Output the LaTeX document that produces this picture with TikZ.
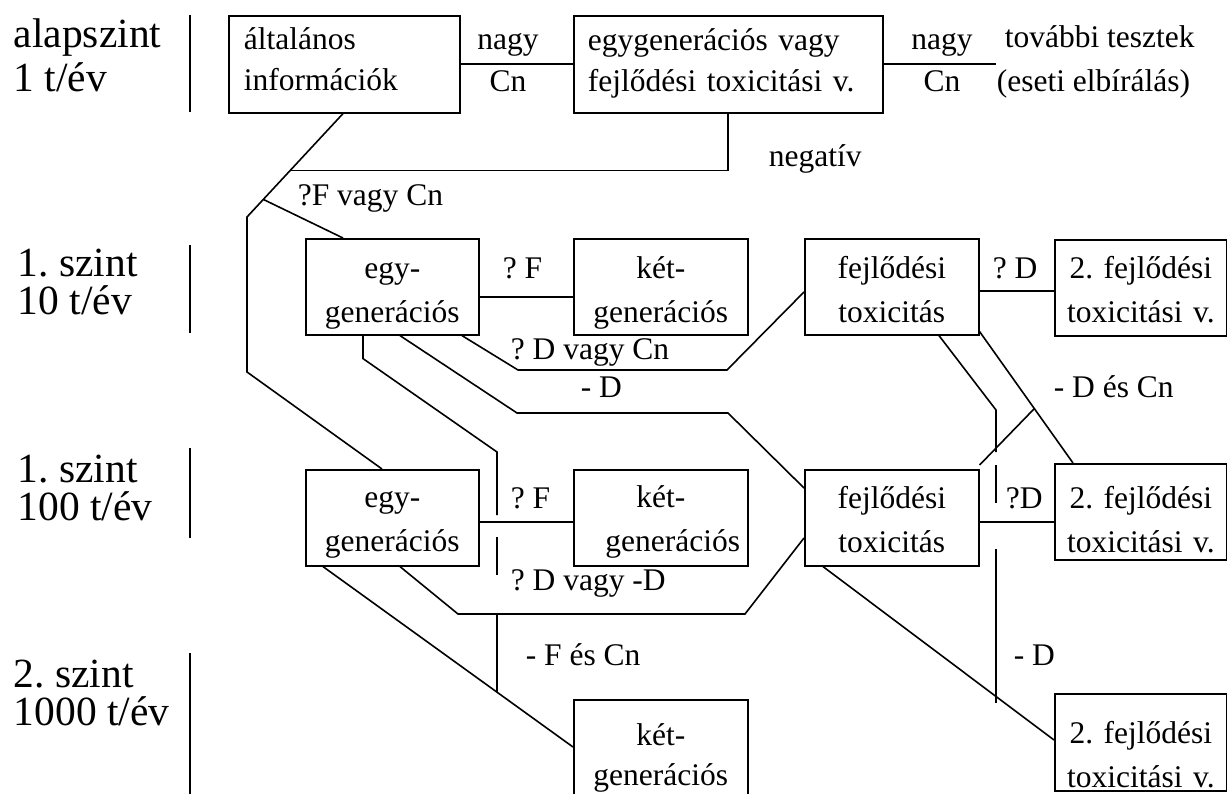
\documentclass[tikz,border=0pt]{standalone}
\usepackage{fontspec}
\setmainfont{Liberation Serif}
\usetikzlibrary{calc}
\frenchspacing

\newcommand\boxfont{\fontsize{31.5}{44}\selectfont}
\newcommand\topfont{\fontsize{31.5}{41}\selectfont}
\newcommand\sidefont{\fontsize{41.5}{38}\selectfont}

\begin{document}
\begin{tikzpicture}[x=1pt,y=-1pt,line width=1.6pt,
  box/.style={draw,inner sep=0pt,anchor=north west,align=center,font=\boxfont},
  lbl/.style={inner sep=0pt,anchor=base west,font=\boxfont},
  side/.style={inner sep=0pt,anchor=base west,align=left,font=\sidefont}]
  \useasboundingbox (0,0) rectangle (1227,794);

  % tonnage levels (base = last line)
  \node[side,font=\fontsize{41.5}{44}\selectfont] (lev0) at (13,92) {alapszint\\1 t/év};
  \node[side] (lev1) at (17,315) {1. szint\\10 t/év};
  \node[side] (lev2) at (17,520) {1. szint\\100 t/év};
  \node[side] (lev3) at (13,725) {2. szint\\1000 t/év};
  \foreach \t/\b in {15/112,245/333,448/538,653/794}
    \draw (190,\t) -- (190,\b);

  % boxes
  \node[box,align=left,inner xsep=15pt,text width=201pt,text height=34pt,text depth=63pt,font=\topfont] (info) at (228,15) {általános\\információk};
  \node[box,align=left,inner xsep=14pt,text width=281pt,text height=35pt,text depth=62pt,font=\topfont] (screen) at (573,15) {egygenerációs vagy\\fejlődési toxicitási v.};

  \node[box,text width=173pt,text height=40pt,text depth=56pt] (egy1) at (305,238) {egy-\\generációs};
  \node[box,text width=174pt,text height=40pt,text depth=56pt] (ket1) at (573,238) {két-\\generációs};
  \node[box,text width=174pt,text height=40pt,text depth=56pt] (fejl1) at (804,238) {fejlődési\\toxicitás};
  \node[box,text width=172pt,text height=39pt,text depth=57pt] (tox1) at (1054,239) {2. fejlődési\\toxicitási v.};

  \node[box,text width=173pt,text height=38pt,text depth=58pt] (egy2) at (305,469) {egy-\\generációs};
  \node[box,text width=174pt,text height=38pt,text depth=58pt] (ket2) at (573,469) {két-\hspace*{26pt}\\\hspace*{24pt}generációs};
  \node[box,text width=174pt,text height=39pt,text depth=57pt] (fejl2) at (804,469) {fejlődési\\toxicitás};
  \node[box,text width=172pt,text height=45pt,text depth=51pt] (tox2) at (1054,463) {2. fejlődési\\toxicitási v.};

  \node[box,text width=174pt,text height=46pt,text depth=55pt,font=\fontsize{31.5}{40}\selectfont] (ket3) at (573,699) {két-\\generációs};
  \node[box,text width=172pt,text height=50pt,text depth=47pt] (tox3) at (1054,693) {2. fejlődési\\toxicitási v.};

  % labels on the links
  \node[lbl,anchor=base] (nagy1) at (508,50) {nagy};
  \node[lbl,anchor=base] (cn1) at (508,92) {Cn};
  \node[lbl,anchor=base] (nagy2) at (942,50) {nagy};
  \node[lbl,anchor=base] (cn2) at (942,92) {Cn};
  \node[lbl,align=left] (further) at (996,92) {\hspace*{8pt}további tesztek\\(eseti elbírálás)};
  \node[lbl] (neg) at (768,167) {negatív};
  \node[lbl] (qfcn) at (297,206) {?F vagy Cn};
  \node[lbl] (qf1) at (502,279) {? F};
  \node[lbl] (qdcn) at (510,360) {? D vagy Cn};
  \node[lbl] (md1) at (580,398) {- D};
  \node[lbl] (qd1) at (992,279) {? D};
  \node[lbl] (mdcn) at (1053,398) {- D és Cn};
  \node[lbl] (qf2) at (510,508) {? F};
  \node[lbl] (qdmd) at (510,590) {? D vagy -D};
  \node[lbl] (mfcn) at (525,665) {- F és Cn};
  \node[lbl] (qd2) at (1005,508) {?D};
  \node[lbl] (md2) at (1013,665) {- D};

  % links
  \draw (info) -- (screen);
  \draw (screen.east) -- (screen.east -| further.west);
  \draw ([yshift=-10pt]egy1.east) -- ([yshift=-10pt]egy1.east -| ket1.west);
  \draw ([yshift=-4pt]fejl1.east) -- ([yshift=-4pt]fejl1.east -| tox1.west);
  \draw ([yshift=-4pt]egy2.east) -- ([yshift=-4pt]egy2.east -| ket2.west);
  \draw ([yshift=-4pt]fejl2.east) -- ([yshift=-4pt]fejl2.east -| tox2.west);

  \coordinate (a1) at ([xshift=115pt]info.south west);
  \coordinate (j1) at (247,217);
  \coordinate (negend) at ($(a1)!0.55!(j1)$);
  \coordinate (br) at ($(a1)!0.83!(j1)$);
  \draw (a1) -- (j1) -- (247,372) -- ([xshift=77pt]egy2.north west);
  \draw ([xshift=155pt]screen.south west) |- (negend);
  \draw (br) -- ([xshift=38pt]egy1.north west);

  \draw ([xshift=157pt]egy1.south west) -- (518,370) -- (727,370) -- ([yshift=-54pt]fejl1.north west);
  \draw ([xshift=95pt]egy1.south west) -- (517,413) -- (728,413) -- ([yshift=-19pt]fejl2.north west);
  \draw ([xshift=58pt]egy1.south west) -- ++(0,23) -- (497,452) -- (497,515);
  \draw (497,537) -- (497,575);

  \draw ([xshift=135pt]fejl1.south west) -- (996,410) -- (996,452);
  \draw (996,465) -- (996,503);
  \draw (996,549) -- (996,703);
  \coordinate (c1) at ([yshift=4pt]fejl1.south east);
  \coordinate (c2) at ([xshift=19pt]tox2.north west);
  \draw (c1) -- (c2);
  \draw ([yshift=4pt]fejl2.north east) -- ($(c1)!0.586!(c2)$);

  \draw ([xshift=95pt]egy2.south west) -- (458,614) -- (745,614) -- ([yshift=-69pt]fejl2.north west);
  \draw (497,614) -- (497,692);
  \draw ([xshift=18pt]egy2.south west) -- ([yshift=-48pt]ket3.north west);
  \draw ([xshift=19pt]fejl2.south west) -- ([yshift=-47pt]tox3.north west);
\end{tikzpicture}
\end{document}
